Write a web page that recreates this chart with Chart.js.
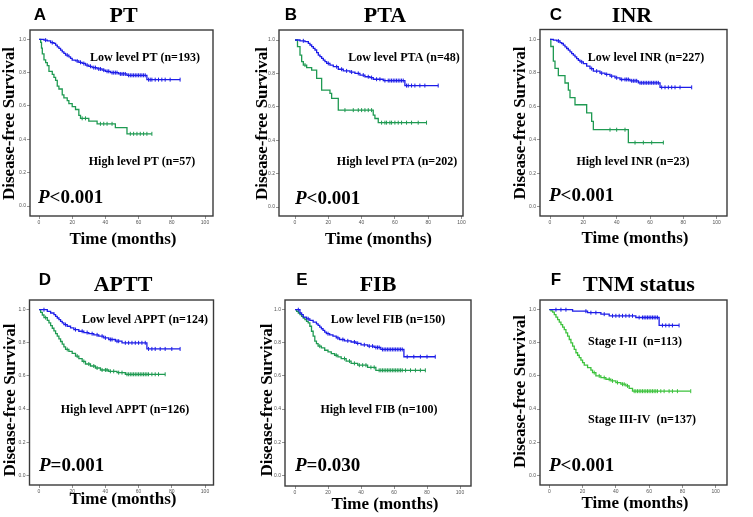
<!DOCTYPE html>
<html>
<head>
<meta charset="utf-8">
<script src="https://cdn.jsdelivr.net/npm/chart.js@4.4.1/dist/chart.umd.min.js"></script>
<style>
  html, body { margin: 0; padding: 0; background: #fff; }
  #wrap { position: relative; width: 753px; height: 517px; overflow: hidden; }
  #wrap canvas { position: absolute; left: 0; top: 0; }
</style>
</head>
<body>
<div id="wrap"></div>
<script>
// axis ticks
const xTicks = [0, 20, 40, 60, 80, 100];
const yTicks = [0, 0.2, 0.4, 0.6, 0.8, 1.0];

// A - PT
const ptLowT = [0, 3, 5, 7, 9, 10, 11, 12, 13, 14, 15, 16, 18, 19, 20, 22, 24, 26, 28, 30, 32, 35, 38, 40, 43, 48, 53, 65, 85];
const ptLowS = [1.0, 0.995, 0.99, 0.98, 0.975, 0.965, 0.955, 0.945, 0.935, 0.925, 0.915, 0.905, 0.895, 0.885, 0.875, 0.87, 0.862, 0.855, 0.845, 0.838, 0.83, 0.822, 0.815, 0.808, 0.80, 0.792, 0.784, 0.758, 0.758];
const ptLowCens = [4, 8, 17, 23, 25, 27, 29, 31, 33, 34, 36, 37, 39, 41, 42, 44, 45, 46, 47, 49, 50, 51, 52, 54, 55, 56, 57, 58, 59, 60, 61, 62, 63, 64, 66, 67, 68, 70, 72, 74, 76, 79, 85];
const ptHighT = [0, 1, 1.5, 2, 3, 4, 5, 6, 8, 9, 10, 11, 12, 14, 15, 17, 18, 20, 22, 24, 25, 30, 35, 46, 53, 68];
const ptHighS = [1.0, 0.982, 0.947, 0.912, 0.877, 0.86, 0.842, 0.807, 0.789, 0.772, 0.754, 0.719, 0.702, 0.667, 0.649, 0.632, 0.614, 0.596, 0.579, 0.544, 0.526, 0.509, 0.493, 0.47, 0.433, 0.433];
const ptHighCens = [26, 28, 37, 39, 41, 44, 55, 57, 59, 61, 63, 65, 68];

// B - PTA
const ptaLowT = [0, 3, 6, 8, 9, 10, 11, 12, 13, 14, 15, 16, 17, 18, 19, 21, 23, 26, 29, 33, 36, 39, 42, 45, 47, 53, 66, 86];
const ptaLowS = [1.0, 0.995, 0.99, 0.98, 0.97, 0.96, 0.95, 0.94, 0.925, 0.91, 0.9, 0.89, 0.88, 0.87, 0.86, 0.85, 0.84, 0.825, 0.815, 0.808, 0.8, 0.79, 0.78, 0.775, 0.765, 0.757, 0.727, 0.727];
const ptaLowCens = [5, 20, 25, 28, 31, 34, 38, 41, 44, 46, 49, 51, 54, 56, 57, 58, 59, 60, 61, 62, 63, 64, 65, 67, 68, 70, 72, 75, 78, 86];
const ptaHighT = [0, 1.5, 3, 4, 5, 7, 10, 13, 16, 21, 22, 26, 47, 48, 50, 79];
const ptaHighS = [1.0, 0.96, 0.91, 0.87, 0.85, 0.835, 0.82, 0.77, 0.70, 0.68, 0.65, 0.58, 0.55, 0.53, 0.505, 0.505];
const ptaHighCens = [6, 30, 35, 38, 40, 42, 44, 46, 52, 54, 55, 57, 58, 60, 62, 64, 67, 70, 74, 79];

// C - INR
const inrLowT = [0, 2, 4, 6, 7, 8, 9, 10, 11, 12, 13, 14, 15, 16, 17, 18, 20, 22, 24, 26, 30, 33, 36, 39, 42, 48, 53, 66, 85];
const inrLowS = [1.0, 0.995, 0.99, 0.98, 0.975, 0.965, 0.955, 0.945, 0.935, 0.925, 0.915, 0.905, 0.895, 0.885, 0.875, 0.865, 0.855, 0.84, 0.825, 0.81, 0.798, 0.79, 0.78, 0.77, 0.76, 0.752, 0.74, 0.713, 0.713];
const inrLowCens = [5, 19, 25, 28, 31, 34, 37, 40, 43, 45, 46, 47, 49, 50, 51, 52, 54, 55, 56, 57, 58, 59, 60, 61, 62, 63, 64, 65, 67, 69, 71, 73, 75, 78, 85];
const inrHighT = [0, 0.5, 2, 3, 5, 9, 11, 12, 15, 22, 25, 26, 47, 68];
const inrHighS = [1.0, 0.957, 0.87, 0.826, 0.783, 0.739, 0.696, 0.652, 0.609, 0.561, 0.51, 0.46, 0.383, 0.383];
const inrHighCens = [36, 40, 45, 51, 56, 61, 68];

// D - APTT
const apttLowT = [0, 5, 7, 9, 10, 11, 12, 13, 14, 15, 17, 19, 21, 24, 27, 30, 33, 36, 39, 42, 46, 50, 65, 85];
const apttLowS = [1.0, 0.99, 0.98, 0.97, 0.96, 0.95, 0.94, 0.93, 0.92, 0.91, 0.9, 0.89, 0.88, 0.87, 0.862, 0.855, 0.848, 0.84, 0.83, 0.82, 0.81, 0.80, 0.763, 0.763];
const apttLowCens = [3, 16, 22, 26, 29, 32, 35, 38, 40, 43, 44, 47, 48, 52, 54, 56, 58, 60, 62, 64, 66, 68, 70, 73, 76, 80, 85];
const apttHighT = [0, 1, 2, 3, 5, 6, 7, 8, 9, 10, 11, 12, 13, 14, 15, 16, 18, 20, 22, 24, 26, 28, 31, 34, 37, 42, 47, 52, 76];
const apttHighS = [1.0, 0.984, 0.968, 0.952, 0.936, 0.92, 0.904, 0.888, 0.872, 0.856, 0.84, 0.824, 0.808, 0.792, 0.776, 0.76, 0.748, 0.736, 0.72, 0.704, 0.688, 0.672, 0.66, 0.648, 0.636, 0.628, 0.62, 0.61, 0.61];
const apttHighCens = [4, 17, 23, 27, 30, 33, 35, 38, 40, 41, 43, 45, 48, 50, 53, 54, 55, 56, 57, 58, 59, 60, 61, 62, 63, 64, 65, 66, 68, 70, 72, 76];

// E - FIB
const fibLowT = [0, 3, 4, 5, 7, 9, 11, 13, 14, 15, 16, 17, 18, 19, 21, 23, 25, 27, 30, 34, 37, 40, 44, 48, 52, 66, 85];
const fibLowS = [1.0, 0.98, 0.97, 0.955, 0.945, 0.935, 0.925, 0.915, 0.905, 0.895, 0.885, 0.875, 0.865, 0.855, 0.848, 0.84, 0.83, 0.82, 0.812, 0.805, 0.797, 0.788, 0.78, 0.772, 0.76, 0.716, 0.716];
const fibLowCens = [2, 8, 20, 26, 29, 32, 36, 38, 42, 45, 47, 49, 50, 51, 53, 54, 55, 56, 57, 58, 59, 60, 61, 62, 63, 64, 65, 68, 72, 76, 80, 85];
const fibHighT = [0, 1, 2, 3, 4, 5, 6, 7, 8, 9, 10, 11, 12, 13, 14, 16, 18, 20, 22, 24, 26, 28, 31, 34, 38, 44, 49, 79];
const fibHighS = [1.0, 0.99, 0.98, 0.97, 0.96, 0.95, 0.94, 0.93, 0.92, 0.9, 0.87, 0.84, 0.81, 0.795, 0.78, 0.77, 0.755, 0.745, 0.735, 0.725, 0.715, 0.705, 0.69, 0.676, 0.665, 0.652, 0.634, 0.634];
const fibHighCens = [15, 25, 30, 33, 36, 39, 41, 43, 46, 48, 51, 52, 53, 54, 55, 56, 57, 58, 59, 60, 61, 62, 63, 64, 65, 67, 70, 73, 76, 79];

// F - TNM
const tnmLowT = [0, 14, 23, 31, 36, 52, 66, 78];
const tnmLowS = [1.0, 0.991, 0.982, 0.973, 0.963, 0.953, 0.905, 0.905];
const tnmLowCens = [4, 7, 10, 22, 25, 28, 33, 38, 40, 42, 44, 46, 48, 50, 54, 56, 57, 58, 59, 60, 61, 62, 63, 64, 65, 68, 70, 72, 74, 78];
const tnmHighT = [0, 1, 2, 3, 4, 5, 6, 7, 8, 9, 10, 11, 12, 13, 14, 15, 16, 17, 18, 19, 20, 21, 23, 25, 26, 28, 31, 34, 37, 40, 43, 46, 48, 50, 85];
const tnmHighS = [1.0, 0.993, 0.985, 0.97, 0.955, 0.94, 0.925, 0.91, 0.895, 0.88, 0.86, 0.84, 0.82, 0.80, 0.78, 0.76, 0.74, 0.725, 0.71, 0.695, 0.68, 0.665, 0.65, 0.635, 0.62, 0.6, 0.59, 0.58, 0.57, 0.56, 0.55, 0.54, 0.525, 0.508, 0.508];
const tnmHighCens = [27, 30, 33, 36, 38, 41, 44, 45, 47, 51, 52, 53, 54, 55, 56, 57, 58, 59, 60, 61, 62, 63, 64, 65, 67, 69, 72, 74, 77, 85];

const W = 753, H = 517;
const BLUE = "#1c1ce8";
const GREEN = "#1f9a52";
const LIGHT_GREEN = "#3cc23c";
const SERIF = '"Liberation Serif", "Times New Roman", serif';

const panels = [
    { letter: "A", title: "PT", p: "<0.001",
      low: { t: ptLowT, s: ptLowS, c: ptLowCens, label: "Low level PT (n=193)" },
      high: { t: ptHighT, s: ptHighS, c: ptHighCens, label: "High level PT (n=57)" },
      box: [30, 30, 213, 216], x0: 39, x100: 205, y1: 39.3, y0: 206,
      letterPos: [40, 20], titlePos: [123.5, 22], lowPos: [145, 58], highPos: [142, 162],
      pPos: [38, 203], yTitlePos: [10, 123.5], xTitlePos: [123, 240], green: GREEN },
    { letter: "B", title: "PTA", p: "<0.001",
      low: { t: ptaLowT, s: ptaLowS, c: ptaLowCens, label: "Low level PTA (n=48)" },
      high: { t: ptaHighT, s: ptaHighS, c: ptaHighCens, label: "High level PTA (n=202)" },
      box: [279, 30, 463, 216], x0: 295, x100: 461.5, y1: 40, y0: 207,
      letterPos: [291, 20], titlePos: [385, 22], lowPos: [404, 58], highPos: [397, 162],
      pPos: [295, 204], yTitlePos: [263, 123.5], xTitlePos: [378.5, 240], green: GREEN },
    { letter: "C", title: "INR", p: "<0.001",
      low: { t: inrLowT, s: inrLowS, c: inrLowCens, label: "Low level INR (n=227)" },
      high: { t: inrHighT, s: inrHighS, c: inrHighCens, label: "High level INR (n=23)" },
      box: [540, 29.5, 727, 216], x0: 550, x100: 716.7, y1: 39.3, y0: 206.7,
      letterPos: [556, 20], titlePos: [632, 22], lowPos: [646, 58], highPos: [633, 162],
      pPos: [549, 201], yTitlePos: [521, 123], xTitlePos: [635, 239], green: GREEN },
    { letter: "D", title: "APTT", p: "=0.001",
      low: { t: apttLowT, s: apttLowS, c: apttLowCens, label: "Low level APPT (n=124)" },
      high: { t: apttHighT, s: apttHighS, c: apttHighCens, label: "High level APPT (n=126)" },
      box: [29.5, 300, 213.5, 485], x0: 39, x100: 205, y1: 309.7, y0: 475.3,
      letterPos: [45, 285], titlePos: [123, 291], lowPos: [145, 320], highPos: [125, 410],
      pPos: [39, 471], yTitlePos: [11, 400], xTitlePos: [123, 500], green: GREEN },
    { letter: "E", title: "FIB", p: "=0.030",
      low: { t: fibLowT, s: fibLowS, c: fibLowCens, label: "Low level FIB (n=150)" },
      high: { t: fibHighT, s: fibHighS, c: fibHighCens, label: "High level FIB (n=100)" },
      box: [285, 300, 471, 486], x0: 295, x100: 460, y1: 309.7, y0: 475.3,
      letterPos: [302, 285], titlePos: [378, 291], lowPos: [388, 320], highPos: [379, 410],
      pPos: [295, 471], yTitlePos: [268, 400], xTitlePos: [385, 505], green: GREEN },
    { letter: "F", title: "TNM status", p: "<0.001",
      low: { t: tnmLowT, s: tnmLowS, c: tnmLowCens, label: "Stage I-II  (n=113)" },
      high: { t: tnmHighT, s: tnmHighS, c: tnmHighCens, label: "Stage III-IV  (n=137)" },
      box: [540, 300, 727, 485], x0: 549.3, x100: 715.7, y1: 309.7, y0: 475.3,
      letterPos: [556, 285], titlePos: [639, 291], lowPos: [635, 342], highPos: [642, 420],
      pPos: [549, 471], yTitlePos: [521, 391.5], xTitlePos: [635, 504], green: LIGHT_GREEN }
];

// survival value at a given time on the step curve
function survAt(t, s, time) {
    let v = s[0];
    for (let i = 0; i < t.length; i++) {
        if (t[i] <= time) v = s[i];
    }
    return v;
}

function curveSet(c, color) {
    return {
        data: c.t.map((x, i) => ({ x: x, y: c.s[i] })),
        borderColor: color,
        borderWidth: 1.3,
        pointRadius: 0,
        stepped: "before",
        fill: false
    };
}

function censorSet(c, color) {
    return {
        data: c.c.map(x => ({ x: x, y: survAt(c.t, c.s, x) })),
        showLine: false,
        pointStyle: "line",
        pointRotation: 90,
        pointRadius: 2,
        pointBorderColor: color,
        pointBorderWidth: 1,
        borderColor: color
    };
}

const panelText = {
    id: "panelText",
    afterDraw(chart, args, opts) {
        const p = opts.panel;
        const ctx = chart.ctx;
        const a = chart.chartArea;
        ctx.save();
        ctx.strokeStyle = "#3a3a3a";
        ctx.lineWidth = 1.4;
        ctx.strokeRect(a.left, a.top, a.right - a.left, a.bottom - a.top);

        ctx.fillStyle = "#000";
        ctx.textAlign = "center";
        ctx.textBaseline = "alphabetic";
        ctx.font = 'bold 17px "Liberation Sans", Arial, sans-serif';
        ctx.fillText(p.letter, p.letterPos[0], p.letterPos[1]);
        ctx.font = "bold 22px " + SERIF;
        ctx.fillText(p.title, p.titlePos[0], p.titlePos[1]);

        ctx.textBaseline = "middle";
        ctx.font = "bold 12px " + SERIF;
        ctx.fillText(p.low.label, p.lowPos[0], p.lowPos[1]);
        ctx.fillText(p.high.label, p.highPos[0], p.highPos[1]);

        ctx.font = "bold 17px " + SERIF;
        ctx.fillText("Time (months)", p.xTitlePos[0], p.xTitlePos[1]);
        ctx.save();
        ctx.translate(p.yTitlePos[0], p.yTitlePos[1]);
        ctx.rotate(-Math.PI / 2);
        ctx.fillText("Disease-free Survival", 0, 0);
        ctx.restore();

        ctx.textAlign = "left";
        ctx.textBaseline = "alphabetic";
        ctx.font = "italic bold 19px " + SERIF;
        ctx.fillText("P", p.pPos[0], p.pPos[1]);
        const pw = ctx.measureText("P").width;
        ctx.font = "bold 19px " + SERIF;
        ctx.fillText(p.p, p.pPos[0] + pw, p.pPos[1]);
        ctx.restore();
    }
};

const wrap = document.getElementById("wrap");
const Y_AXIS_W = 20, X_AXIS_H = 14;

panels.forEach(p => {
    const cv = document.createElement("canvas");
    cv.width = W;
    cv.height = H;
    wrap.appendChild(cv);

    const [l, t, r, b] = p.box;
    const xu = (p.x100 - p.x0) / 100;
    const yu = p.y0 - p.y1;
    const xMin = -(p.x0 - l) / xu, xMax = 100 + (r - p.x100) / xu;
    const yMax = 1 + (p.y1 - t) / yu, yMin = -(b - p.y0) / yu;

    new Chart(cv, {
        type: "line",
        data: {
            datasets: [
                curveSet(p.low, BLUE),
                censorSet(p.low, BLUE),
                curveSet(p.high, p.green),
                censorSet(p.high, p.green)
            ]
        },
        options: {
            responsive: false,
            animation: false,
            layout: {
                padding: { left: l - Y_AXIS_W, top: t, right: W - r, bottom: H - b - X_AXIS_H }
            },
            plugins: {
                legend: { display: false },
                tooltip: { enabled: false },
                panelText: { panel: p }
            },
            scales: {
                x: {
                    type: "linear",
                    min: xMin,
                    max: xMax,
                    afterBuildTicks: s => { s.ticks = xTicks.map(v => ({ value: v })); },
                    afterFit: s => { s.height = X_AXIS_H; s.paddingLeft = 0; s.paddingRight = 0; },
                    grid: { drawOnChartArea: false, tickLength: 3, color: "#777", lineWidth: 0.8 },
                    border: { display: false },
                    ticks: {
                        font: { size: 5, family: "Liberation Sans" },
                        color: "#555",
                        padding: 1,
                        maxRotation: 0,
                        autoSkip: false,
                        callback: v => String(v)
                    }
                },
                y: {
                    type: "linear",
                    min: yMin,
                    max: yMax,
                    afterBuildTicks: s => { s.ticks = yTicks.map(v => ({ value: v })); },
                    afterFit: s => { s.width = Y_AXIS_W; s.paddingTop = 0; s.paddingBottom = 0; },
                    grid: { drawOnChartArea: false, tickLength: 3, color: "#777", lineWidth: 0.8 },
                    border: { display: false },
                    ticks: {
                        font: { size: 5, family: "Liberation Sans" },
                        color: "#555",
                        padding: 1,
                        autoSkip: false,
                        callback: v => v.toFixed(1)
                    }
                }
            }
        },
        plugins: [panelText]
    });
});
</script>
</body>
</html>
